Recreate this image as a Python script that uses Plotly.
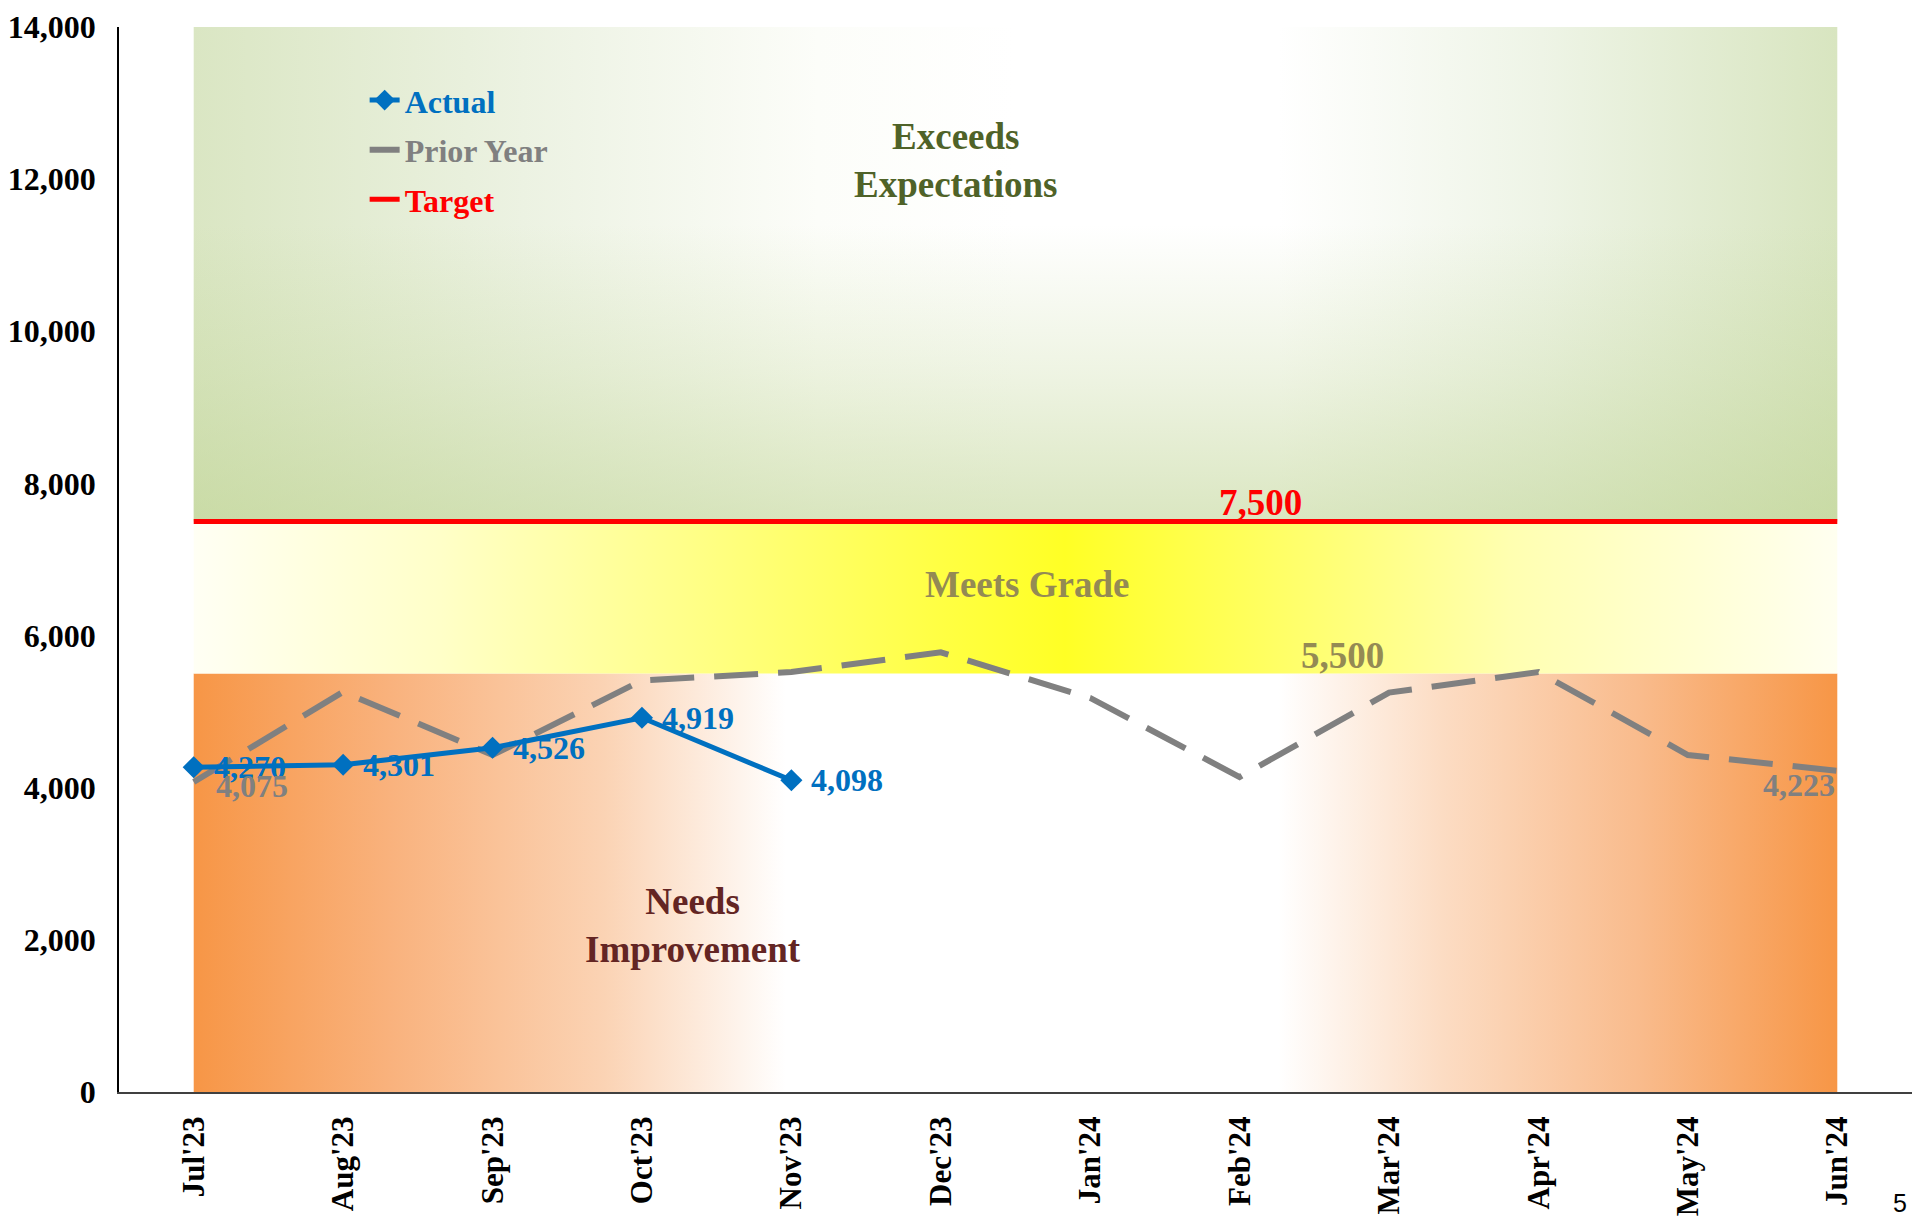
import plotly.graph_objects as go

months = ["Jul'23", "Aug'23", "Sep'23", "Oct'23", "Nov'23", "Dec'23",
          "Jan'24", "Feb'24", "Mar'24", "Apr'24", "May'24", "Jun'24"]
actual_months = months[:5]
actual = [4270, 4301, 4526, 4919, 4098]
prior_year = [4075, 5260, 4430, 5410, 5520, 5780, 5180, 4140, 5250, 5520, 4430, 4223]
target_value = 7500
needs_max = 5500
meets_max = 7500
exceeds_max = 14000

y_ticks = [0, 2000, 4000, 6000, 8000, 10000, 12000, 14000]

SERIF = "Liberation Serif, Times New Roman, serif"
BLUE = "#0070C0"
GRAY = "#808080"
RED = "#FF0000"
OLIVE = "#948A54"

fig = go.Figure()

# Performance bands
fig.add_trace(go.Scatter(
    x=months, y=[needs_max] * len(months), mode="none", fill="tozeroy",
    fillgradient=dict(type="horizontal", colorscale=[
        [0.0, "#F79646"], [0.12, "#F9B27D"], [0.25, "#FBD3B4"], [0.36, "#FFFFFF"],
        [0.66, "#FFFFFF"], [0.76, "#FCDCC3"], [0.88, "#F9BB8C"], [1.0, "#F79646"]]),
    showlegend=False, hoverinfo="skip"))
fig.add_trace(go.Scatter(
    x=months, y=[meets_max] * len(months), mode="none", fill="tonexty",
    fillgradient=dict(type="horizontal", colorscale=[
        [0.0, "#FFFFF4"], [0.15, "#FFFFC8"], [0.32, "#FFFF80"], [0.45, "#FFFF45"],
        [0.53, "#FFFF25"], [0.65, "#FFFF60"], [0.8, "#FFFFB0"], [1.0, "#FFFFF0"]]),
    showlegend=False, hoverinfo="skip"))
fig.add_trace(go.Scatter(
    x=months, y=[exceeds_max] * len(months), mode="none", fill="tonexty",
    fillgradient=dict(type="horizontal", colorscale=[
        [0.0, "#DAE6C3"], [0.2, "#ECF2E2"], [0.38, "#FCFDF9"], [0.5, "#FFFFFF"],
        [0.66, "#FFFFFF"], [0.82, "#EEF4E6"], [1.0, "#D8E5C0"]]),
    showlegend=False, hoverinfo="skip"))
# vertical tint over the upper band (darker green towards its lower edge)
fig.add_trace(go.Scatter(
    x=months, y=[meets_max] * len(months), mode="lines",
    line=dict(width=0, color="rgba(0,0,0,0)"),
    showlegend=False, hoverinfo="skip"))
fig.add_trace(go.Scatter(
    x=months, y=[exceeds_max] * len(months), mode="lines", fill="tonexty",
    line=dict(width=0, color="rgba(0,0,0,0)"),
    fillgradient=dict(type="vertical", colorscale=[
        [0.0, "rgba(188,210,142,0.55)"], [0.3, "rgba(188,210,142,0.25)"],
        [0.6, "rgba(188,210,142,0.0)"], [1.0, "rgba(188,210,142,0.0)"]]),
    showlegend=False, hoverinfo="skip"))

# Target
fig.add_trace(go.Scatter(
    x=months, y=[target_value] * len(months), mode="lines",
    line=dict(color=RED, width=5), legendgroup="t",
    name="<span style='color:#FF0000'><b>Target</b></span>", legendrank=3))

# Prior year
fig.add_trace(go.Scatter(
    x=months, y=prior_year, mode="lines", legendgroup="p",
    line=dict(color=GRAY, width=6, dash="44px,20px"),
    name="<span style='color:#808080'><b>Prior Year</b></span>", legendrank=2))

# Actual
fig.add_trace(go.Scatter(
    x=actual_months, y=actual, mode="lines+markers", legendgroup="a",
    line=dict(color=BLUE, width=5),
    marker=dict(symbol="diamond", size=17, color=BLUE),
    name="<span style='color:#0070C0'><b>Actual</b></span>", legendrank=1))

annotations = []
for m, v in zip(actual_months, actual):
    annotations.append(dict(x=m, y=v, text=f"{v:,}", showarrow=False,
                            xanchor="left", yanchor="middle", xshift=18,
                            font=dict(family=SERIF, size=32, color=BLUE, weight="bold")))
# prior year end labels
annotations.append(dict(x=months[0], y=prior_year[0], text=f"{prior_year[0]:,}", showarrow=False,
                        xanchor="left", yanchor="middle", xshift=20, yshift=-4,
                        font=dict(family=SERIF, size=32, color=GRAY, weight="bold")))
annotations.append(dict(x=months[-1], y=prior_year[-1], text=f"{prior_year[-1]:,}", showarrow=False,
                        xanchor="right", yanchor="middle", xshift=0, yshift=-14,
                        font=dict(family=SERIF, size=32, color=GRAY, weight="bold")))
# band value labels
annotations.append(dict(x=7.14, y=target_value, text=f"{target_value:,}", showarrow=False,
                        xanchor="center", yanchor="bottom", yshift=-4,
                        font=dict(family=SERIF, size=37, color=RED, weight="bold")))
annotations.append(dict(x=7.69, y=needs_max, text=f"{needs_max:,}", showarrow=False,
                        xanchor="center", yanchor="bottom", yshift=-4,
                        font=dict(family=SERIF, size=37, color=OLIVE, weight="bold")))
# band names
annotations.append(dict(x=5.1, y=12250, text="Exceeds<br>Expectations", showarrow=False,
                        xanchor="center", yanchor="middle",
                        font=dict(family=SERIF, size=37, color="#4F6228", weight="bold")))
annotations.append(dict(x=5.58, y=6667, text="Meets Grade", showarrow=False,
                        xanchor="center", yanchor="middle",
                        font=dict(family=SERIF, size=37, color=OLIVE, weight="bold")))
annotations.append(dict(x=3.34, y=2190, text="Needs<br>Improvement", showarrow=False,
                        xanchor="center", yanchor="middle",
                        font=dict(family=SERIF, size=37, color="#632523", weight="bold")))

# page body has an 8px margin: size the figure so the page needs no scrollbars
W, H = 1904, 1209
ML, MR, MT, MB = 111, 0, 19, 125
plot_w, plot_h = W - ML - MR, H - MT - MB
# page number
annotations.append(dict(x=(1892 - ML) / plot_w, y=-(1195 - (H - MB)) / plot_h, xref="paper", yref="paper",
                        text="5", showarrow=False, xanchor="center", yanchor="middle",
                        font=dict(family="Liberation Sans, Arial, sans-serif", size=25, color="#000000")))

fig.update_layout(
    width=W, height=H, autosize=False,
    margin=dict(l=ML, r=MR, t=MT, b=MB, pad=0),
    paper_bgcolor="white", plot_bgcolor="white",
    font=dict(family=SERIF, size=32, color="black"),
    showlegend=True,
    legend=dict(x=0.137, y=0.957, xanchor="left", yanchor="top",
                traceorder="grouped", tracegroupgap=5,
                bgcolor="rgba(0,0,0,0)",
                font=dict(family=SERIF, size=32)),
    annotations=annotations,
    xaxis=dict(type="category", categoryorder="array", categoryarray=months,
               range=[-0.5, 11.5], showgrid=False, zeroline=False, automargin=False,
               showline=True, linecolor="#404040", linewidth=2,
               ticks="", tickangle=-90, ticklabelstandoff=10,
               tickfont=dict(family=SERIF, size=31, color="black", weight="bold")),
    yaxis=dict(range=[0, 14000], tickvals=y_ticks, tickformat=",d", automargin=False,
               showgrid=False, zeroline=False, showline=True,
               linecolor="black", linewidth=1.5, ticks="", ticklabelstandoff=15,
               tickfont=dict(family=SERIF, size=32, color="black", weight="bold")),
)

fig.write_html("out.html")
